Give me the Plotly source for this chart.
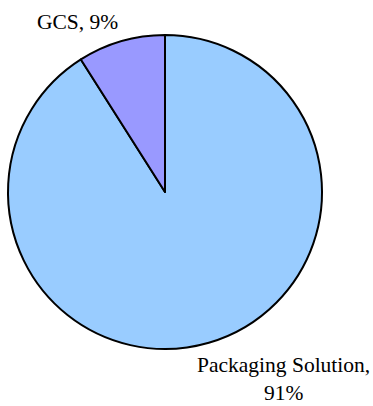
import plotly.graph_objects as go

# Revenue split by segment
segments = ["Packaging Solution", "GCS"]
shares = [91, 9]
colors = ["#99CCFF", "#9999FF"]

W, H = 373, 406

fig = go.Figure(
    go.Pie(
        labels=segments,
        values=shares,
        sort=False,
        direction="clockwise",
        rotation=0,
        marker=dict(colors=colors, line=dict(color="black", width=2)),
        textinfo="none",
        hoverinfo="label+percent",
        showlegend=False,
        domain=dict(x=[8 / W, 322 / W], y=[1 - 349 / H, 1 - 35 / H]),
    )
)

# Outside category labels, "name, value%"
label_pos = {
    "GCS": (77, 22, "{name}, {v}%"),
    "Packaging Solution": (283.5, 379, "{name},<br>{v}%"),
}
for name, v in zip(segments, shares):
    px, py, tmpl = label_pos[name]
    fig.add_annotation(
        x=px / W, y=1 - py / H, xref="paper", yref="paper",
        text=tmpl.format(name=name, v=v), showarrow=False,
        xanchor="center", yanchor="middle", align="center",
        font=dict(family="Liberation Serif", size=21.5, color="black"),
    )

fig.update_layout(
    width=W, height=H,
    margin=dict(l=0, r=0, t=0, b=0),
    paper_bgcolor="white", plot_bgcolor="white",
    font=dict(family="Liberation Serif"),
)

fig.write_html("out.html")
